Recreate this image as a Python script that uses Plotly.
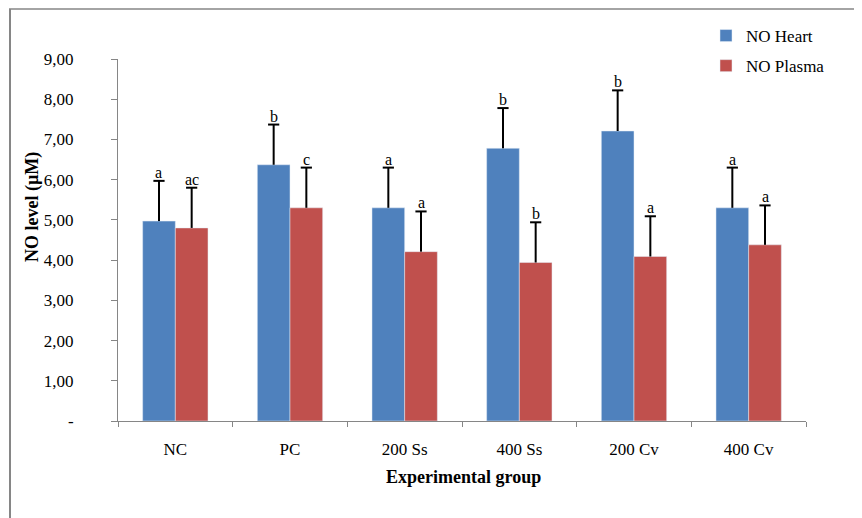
import plotly.graph_objects as go

groups = ["NC", "PC", "200 Ss", "400 Ss", "200 Cv", "400 Cv"]
heart = [4.97, 6.37, 5.30, 6.78, 7.21, 5.30]
heart_err = [1.00, 1.00, 1.00, 1.00, 1.01, 1.00]
plasma = [4.80, 5.30, 4.21, 3.94, 4.09, 4.38]
plasma_err = [1.00, 1.00, 1.00, 1.00, 1.00, 0.98]
heart_letters = ["a", "b", "a", "b", "b", "a"]
plasma_letters = ["ac", "c", "a", "b", "a", "a"]
y_tickvals = [0, 1, 2, 3, 4, 5, 6, 7, 8, 9]
y_ticktext = ["-", "1,00", "2,00", "3,00", "4,00", "5,00", "6,00", "7,00", "8,00", "9,00"]

FONT = "Liberation Serif, Times New Roman, serif"
GREY = "#868686"

heart_top = [v + e for v, e in zip(heart, heart_err)]
plasma_top = [v + e for v, e in zip(plasma, plasma_err)]

fig = go.Figure()
fig.add_trace(go.Bar(
    x=groups, y=heart, name="NO Heart", marker_color="#4F81BD",
    legendgroup="h", offsetgroup="h",
    error_y=dict(type="data", array=heart_err, arrayminus=[0] * 6, symmetric=False,
                 color="black", thickness=2, width=0),
))
fig.add_trace(go.Bar(
    x=groups, y=plasma, name="NO Plasma", marker_color="#C0504D",
    legendgroup="p", offsetgroup="p",
    error_y=dict(type="data", array=plasma_err, arrayminus=[0] * 6, symmetric=False,
                 color="black", thickness=2, width=0),
))
# error-bar caps (top only)
for tops, og in ((heart_top, "h"), (plasma_top, "p")):
    fig.add_trace(go.Scatter(
        x=groups, y=tops, mode="markers", offsetgroup=og, showlegend=False,
        hoverinfo="skip",
        marker=dict(symbol="line-ew", size=8, line=dict(color="black", width=2)),
    ))

# page offset (body margin of the html page)
OFF = 8
W, H = 862, 518
# plot area in page pixels
PL, PR, PT, PB = 118, 806, 59, 421
L, R, T, B = PL - OFF, W - PR + OFF, PT - OFF, H - PB + OFF
pw, ph = PR - PL, PB - PT

def px(xp):
    return (xp - PL) / pw

def py(yp):
    return (PB - yp) / ph

annotations = []
for g, v, t in zip(groups, heart_top, heart_letters):
    annotations.append(dict(x=g, y=v, xref="x", yref="y", text=t, showarrow=False,
                            xshift=-16.4, yshift=-2, yanchor="bottom",
                            font=dict(family=FONT, size=16, color="black")))
for g, v, t in zip(groups, plasma_top, plasma_letters):
    annotations.append(dict(x=g, y=v, xref="x", yref="y", text=t, showarrow=False,
                            xshift=16.4, yshift=-2, yanchor="bottom",
                            font=dict(family=FONT, size=16, color="black")))

annotations.append(dict(x=px(33), y=py(207), xref="paper", yref="paper",
                        xanchor="center", yanchor="middle",
                        text="<b>NO level (µM)</b>", textangle=-90, showarrow=False,
                        font=dict(family=FONT, size=18, color="black")))
annotations.append(dict(x=px(463), y=py(477), xref="paper", yref="paper",
                        xanchor="center", yanchor="middle",
                        text="<b>Experimental group</b>", showarrow=False,
                        font=dict(family=FONT, size=18, color="black")))

fig.update_layout(
    width=W, height=H,
    margin=dict(l=L, r=R, t=T, b=B, pad=0, autoexpand=False),
    paper_bgcolor="white", plot_bgcolor="white",
    barmode="group", bargap=0.43, bargroupgap=0,
    scattermode="group", scattergap=0.43,
    font=dict(family=FONT, size=16, color="black"),
    showlegend=True,
    legend=dict(x=px(706), y=py(18), xanchor="left", yanchor="top",
                traceorder="grouped", tracegroupgap=5,
                font=dict(family=FONT, size=17, color="black"),
                bgcolor="rgba(0,0,0,0)"),
    annotations=annotations,
    shapes=[
        dict(type="line", xref="paper", yref="paper", x0=px(9), x1=px(870), y0=py(9), y1=py(9),
             line=dict(color=GREY, width=1.5)),
        dict(type="line", xref="paper", yref="paper", x0=px(10), x1=px(10), y0=py(9), y1=py(530),
             line=dict(color=GREY, width=2)),
    ],
)
fig.update_xaxes(
    showline=True, linecolor=GREY, linewidth=1,
    ticks="outside", tickson="boundaries", ticklen=5, tickcolor=GREY,
    showgrid=False, zeroline=False, ticklabelstandoff=13,
    tickfont=dict(family=FONT, size=17, color="black"),
)
fig.update_yaxes(
    range=[0, 9], tickvals=y_tickvals, ticktext=y_ticktext,
    showline=True, linecolor=GREY, linewidth=1,
    ticks="outside", ticklen=6, tickcolor=GREY,
    showgrid=False, zeroline=False, ticklabelstandoff=34,
    tickfont=dict(family=FONT, size=17, color="black"),
)

fig.write_html("out.html")
